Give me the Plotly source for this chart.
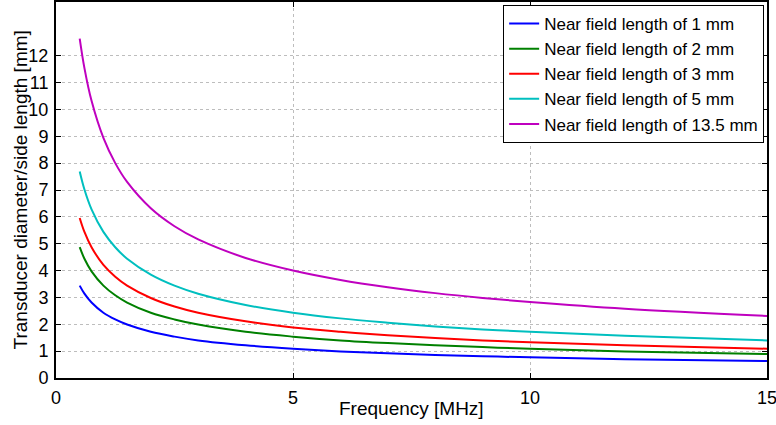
import plotly.graph_objects as go

freq_mhz = [0.5, 0.6, 0.75, 1, 1.25, 1.5, 2, 2.5, 3, 4, 5, 6, 7, 8, 9, 10, 12, 15]
d_n1 = [3.44, 3.14, 2.81, 2.43, 2.18, 1.99, 1.72, 1.54, 1.40, 1.22, 1.09, 0.99, 0.92, 0.86, 0.81, 0.77, 0.70, 0.63]
d_n2 = [4.87, 4.44, 3.97, 3.44, 3.08, 2.81, 2.43, 2.18, 1.99, 1.72, 1.54, 1.40, 1.30, 1.22, 1.15, 1.09, 0.99, 0.89]
d_n3 = [5.96, 5.44, 4.87, 4.21, 3.77, 3.44, 2.98, 2.66, 2.43, 2.11, 1.88, 1.72, 1.59, 1.49, 1.40, 1.33, 1.22, 1.09]
d_n5 = [7.69, 7.02, 6.28, 5.44, 4.87, 4.44, 3.85, 3.44, 3.14, 2.72, 2.43, 2.22, 2.06, 1.92, 1.81, 1.72, 1.57, 1.40]
d_n135 = [12.64, 11.54, 10.32, 8.94, 8.00, 7.30, 6.32, 5.65, 5.16, 4.47, 4.00, 3.65, 3.38, 3.16, 2.98, 2.83, 2.58, 2.31]

series_names = ["Near field length of 1 mm", "Near field length of 2 mm",
                "Near field length of 3 mm", "Near field length of 5 mm",
                "Near field length of 13.5 mm"]
series_values = [d_n1, d_n2, d_n3, d_n5, d_n135]
colors = ["#0000ff", "#008000", "#ff0000", "#00bfbf", "#bf00bf"]

x_ticks = [0, 5, 10, 15]
y_ticks = list(range(0, 13))
x_title = "Frequency [MHz]"
y_title = "Transducer diameter/side length [mm]"

FONT = "Liberation Sans, Arial, sans-serif"

fig = go.Figure()
for name, vals, c in zip(series_names, series_values, colors):
    fig.add_trace(go.Scatter(x=freq_mhz, y=vals, mode="lines", name=name,
                             line=dict(color=c, width=2, shape="spline")))

axis_common = dict(
    showline=True, linecolor="black", linewidth=2, mirror="ticks",
    ticks="inside", ticklen=5, tickcolor="black", tickwidth=1,
    showgrid=True, gridcolor="#bdbdbd", griddash="dot", gridwidth=1,
    zeroline=False, automargin=False, ticklabeloverflow="allow",
    tickfont=dict(family=FONT, size=18, color="black"),
)

fig.update_xaxes(range=[0, 15], tickvals=x_ticks, ticktext=[str(v) for v in x_ticks],
                 ticklabelstandoff=2, **axis_common)
fig.update_yaxes(range=[0, 14], tickvals=y_ticks, ticktext=[str(v) for v in y_ticks],
                 ticklabelstandoff=2, **axis_common)

fig.add_annotation(text=x_title, xref="paper", yref="paper", x=0.5, y=-0.08,
                   xanchor="center", yanchor="middle", showarrow=False,
                   font=dict(family=FONT, size=19, color="black"))
fig.add_annotation(text=y_title, xref="paper", yref="paper", x=-0.05, y=0.5,
                   xanchor="center", yanchor="middle", showarrow=False, textangle=-90,
                   font=dict(family=FONT, size=19, color="black"))

fig.update_layout(
    width=776, height=425,
    margin=dict(l=56, r=9, t=2, b=47),
    paper_bgcolor="white", plot_bgcolor="white",
    font=dict(family=FONT, color="black"),
    showlegend=True,
    legend=dict(x=0.996, y=0.992, xanchor="right", yanchor="top",
                bgcolor="white", bordercolor="black", borderwidth=1,
                font=dict(family=FONT, size=17, color="black"),
                tracegroupgap=0, itemwidth=30),
)

fig.write_html("out.html", config={"displayModeBar": False},
               post_script="document.body.style.margin='0';")
